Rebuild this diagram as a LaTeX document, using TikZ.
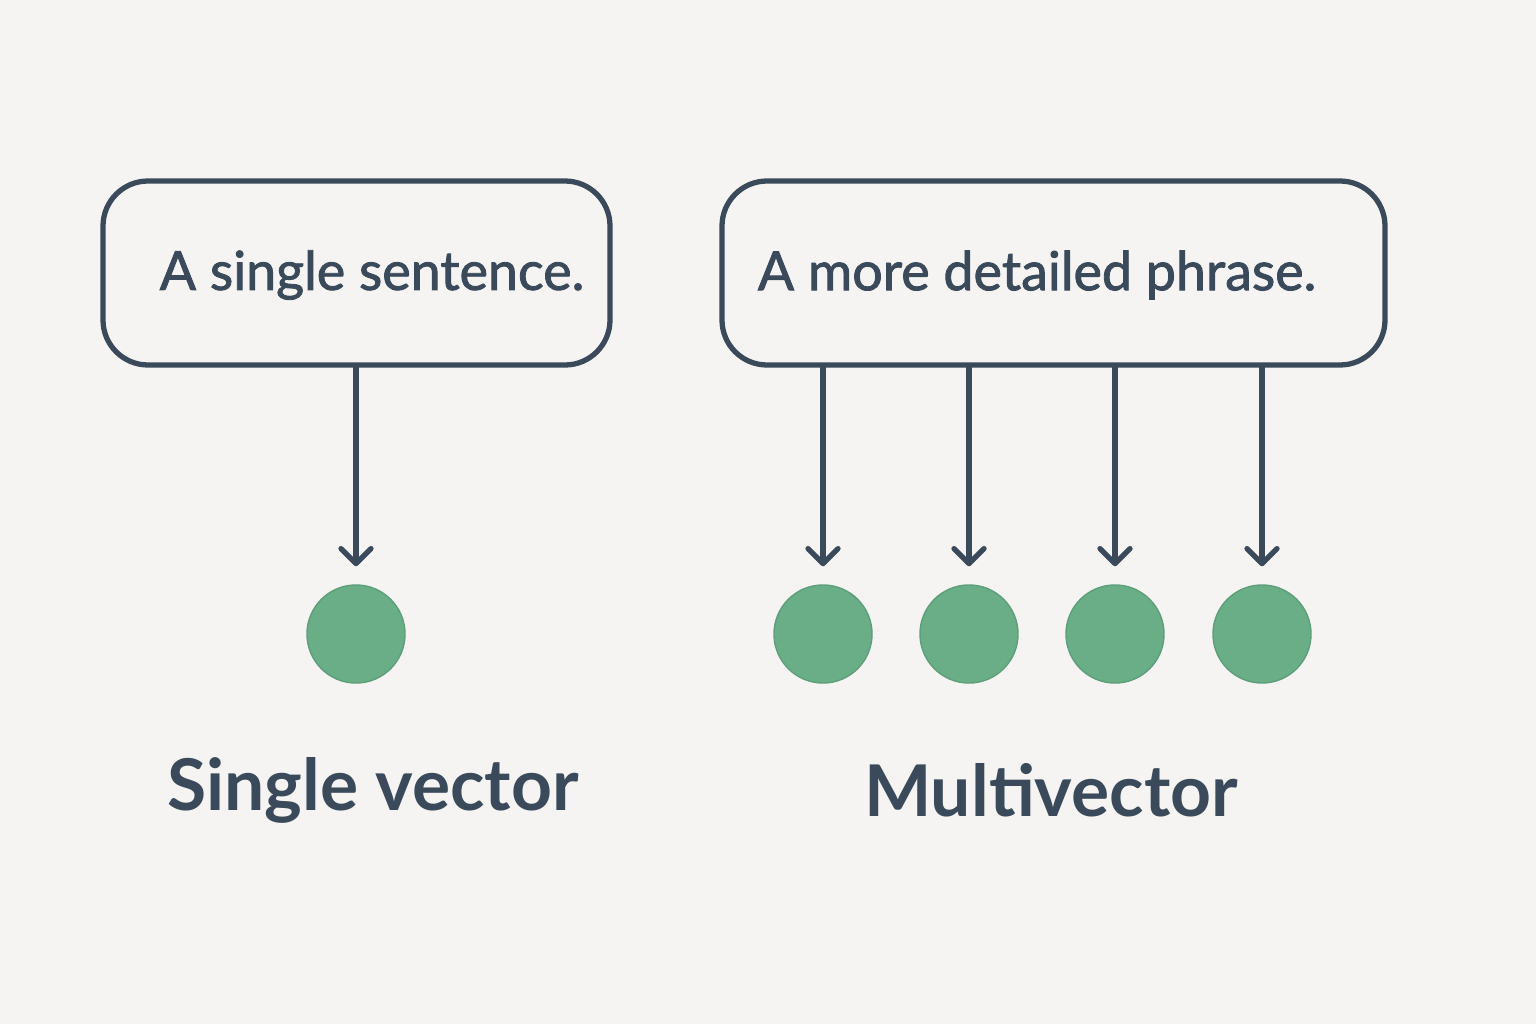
\documentclass[tikz,border=0pt]{standalone}
\usepackage{fontspec}
\setmainfont{Lato}
\newfontfamily\boxfont[FakeBold=1.6]{Lato}
\usetikzlibrary{arrows.meta,positioning}

\definecolor{bgcol}{HTML}{F5F4F2}
\definecolor{inkcol}{HTML}{3A4A5B}
\definecolor{dotcol}{HTML}{6AAE88}
\definecolor{dotline}{HTML}{5E9F7B}

\tikzset{
  textbox/.style={draw=inkcol, line width=1.5pt, rounded corners=0.45cm, fill=bgcol},
  boxtext/.style={text=inkcol, font=\boxfont\fontsize{15.3}{18}\selectfont, anchor=center},
  vecdot/.style={circle, fill=dotcol, draw=dotline, line width=0.4pt, minimum size=0.98cm, inner sep=0pt},
  caption/.style={text=inkcol, font=\bfseries\fontsize{20.3}{24}\selectfont},
  embed/.style={draw=inkcol, line width=1.5pt, shorten >=0.18cm,
    -{Straight Barb[length=0.15cm, width=0.3cm, line cap=round, line join=round]}},
}

\begin{document}
\begin{tikzpicture}[x=0.01cm, y=-0.01cm]

    % background, same size as the reference
    \fill[bgcol] (0,0) rectangle (1536,1024);
    \useasboundingbox (0,0) rectangle (1536,1024);

    % single vector side
    \draw[textbox] (103,181) rectangle (610,365);
    \coordinate (singlebox) at (356,365);
    \node[boxtext] (singletext) at (372,275) {A single sentence.};
    \node[vecdot] (sv) at (356,634) {};
    \draw[embed] (singlebox) -- (sv);
    \node[caption] (singlelabel) at (373,790) {Single vector};

    % multivector side
    \draw[textbox] (722,181) rectangle (1385,365);
    \node[boxtext] (multitext) at (1037,275) {A more detailed phrase.};
    \foreach \x [count=\i] in {823, 969, 1115, 1262}
    {
      \node[vecdot] (mv\i) at (\x,634) {};
      \coordinate (mtop\i) at (\x,365);
      \draw[embed] (mtop\i) -- (mv\i);
    }
    \node[caption] (multilabel) at (1051,790) {Multivector};

\end{tikzpicture}
\end{document}
